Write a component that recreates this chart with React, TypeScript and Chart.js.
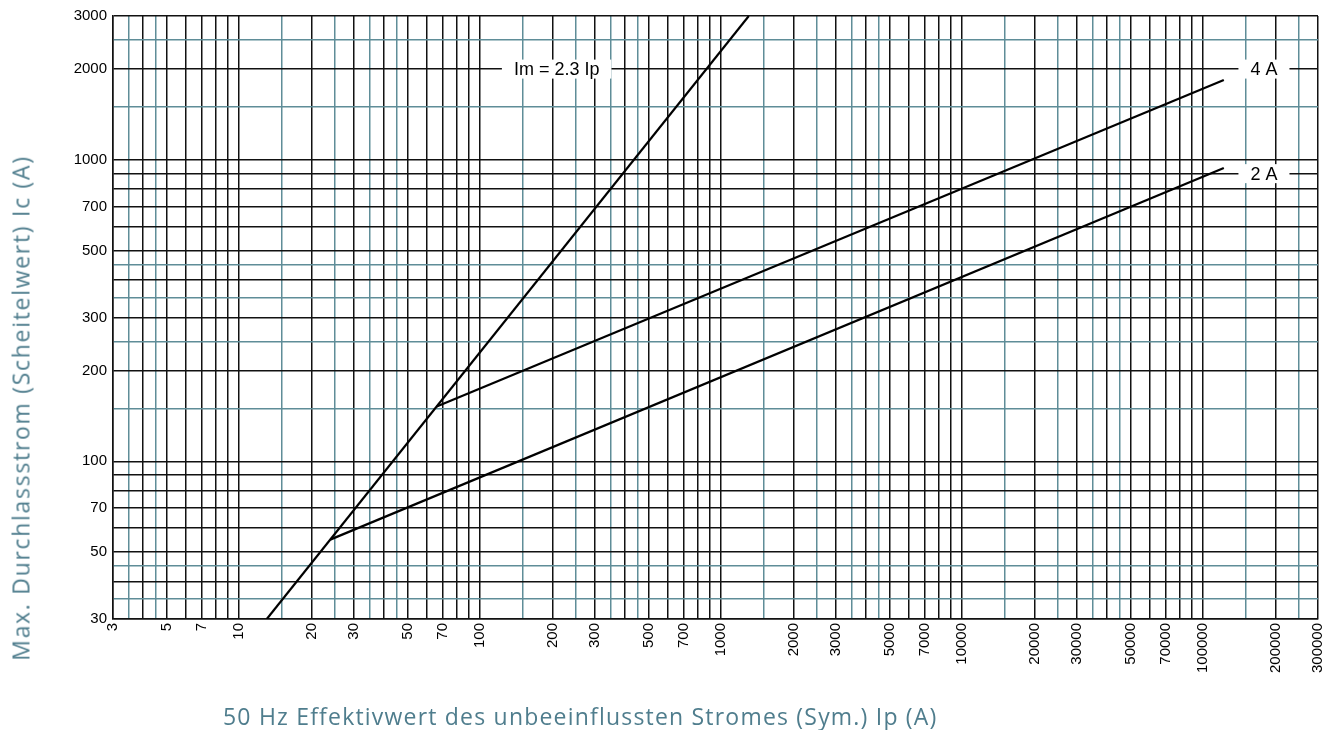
import React, { useEffect, useRef } from "react";
import { Chart, registerables } from "chart.js";

Chart.register(...registerables);

// ---- data ----
const xTickLabels = [3, 5, 7, 10, 20, 30, 50, 70, 100, 200, 300, 500, 700, 1000, 2000, 3000, 5000, 7000, 10000, 20000, 30000, 50000, 70000, 100000, 200000, 300000];
const yTickLabels = [30, 50, 70, 100, 200, 300, 500, 700, 1000, 2000, 3000];
const blackMultipliers = [1, 2, 3, 4, 5, 6, 7, 8, 9];
const tealMultipliers = [1.5, 2.5, 3.5, 4.5];
const xDecades = [1, 10, 100, 1000, 10000, 100000];
const yDecades = [10, 100, 1000];

const lineImX = [13.04, 1304];
const lineImY = [30, 3000];
const line4AX = [66.1, 122000];
const line4AY = [152, 1840];
const line2AX = [23.9, 122000];
const line2AY = [55, 940];

const labelTexts = ["Im = 2.3 Ip", "4 A", "2 A"];
const labelXs = [208, 179000, 179000];
const labelYs = [2000, 2000, 900];

const xTitle = "50 Hz Effektivwert des unbeeinflussten Stromes (Sym.) Ip (A)";
const yTitle = "Max. Durchlassstrom (Scheitelwert) Ic (A)";

// ---- helpers ----
const BLACK = "#111111";
const TEAL = "#5f8d98";
const TITLE_COLOR = "#4f7d8d";

function clean(v: number) {
  return parseFloat(v.toPrecision(6));
}
function gridValues(decades: number[], min: number, max: number) {
  const out: number[] = [];
  for (const d of decades) {
    for (const m of blackMultipliers.concat(tealMultipliers)) {
      const v = clean(m * d);
      if (v >= min && v <= max && !out.includes(v)) out.push(v);
    }
  }
  return out.sort((a, b) => a - b);
}
const tealSet = new Set<number>();
for (const d of xDecades.concat(yDecades)) for (const m of tealMultipliers) tealSet.add(clean(m * d));

const xGrid = gridValues(xDecades, 3, 300000);
const yGrid = gridValues(yDecades, 30, 3000);

function pts(xs: number[], ys: number[]) {
  return xs.map((x, i) => ({ x, y: ys[i] }));
}

const labelPlugin = {
  id: "curveLabels",
  afterDatasetsDraw(chart: any) {
    const ctx = chart.ctx;
    const xs = chart.scales.x;
    const ys = chart.scales.y;
    ctx.save();
    ctx.font = '18px "Liberation Sans", Arial, sans-serif';
    ctx.textAlign = "center";
    ctx.textBaseline = "middle";
    labelTexts.forEach((t, i) => {
      const px = xs.getPixelForValue(labelXs[i]);
      const py = ys.getPixelForValue(labelYs[i]);
      const w = ctx.measureText(t).width + 24;
      const h = 19;
      ctx.fillStyle = "#ffffff";
      ctx.fillRect(px - w / 2, py - h / 2, w, h);
      ctx.fillStyle = "#000000";
      ctx.fillText(t, px, py + 1);
    });
    ctx.restore();
  },
};

export default function App() {
  const ref = useRef<HTMLCanvasElement>(null);

  useEffect(() => {
    if (!ref.current) return;
    const lineStyle = {
      borderColor: "#000000",
      borderWidth: 2.2,
      pointRadius: 0,
      fill: false,
      tension: 0,
    };
    const chart = new Chart(ref.current, {
      type: "line",
      data: {
        datasets: [
          { label: "Im = 2.3 Ip", data: pts(lineImX, lineImY), ...lineStyle },
          { label: "4 A", data: pts(line4AX, line4AY), ...lineStyle },
          { label: "2 A", data: pts(line2AX, line2AY), ...lineStyle },
        ],
      },
      options: {
        animation: false,
        responsive: false,
        devicePixelRatio: 1,
        layout: { padding: { left: 0, top: 16, right: 9, bottom: 0 } },
        plugins: { legend: { display: false }, tooltip: { enabled: false } },
        scales: {
          x: {
            type: "logarithmic",
            min: 3,
            max: 300000,
            afterBuildTicks: (s: any) => {
              s.ticks = xGrid.map((v) => ({ value: v }));
            },
            afterFit: (s: any) => {
              s.height = 111;
              s.paddingLeft = 0;
              s.paddingRight = 0;
            },
            grid: {
              drawTicks: false,
              lineWidth: 1.5,
              color: (c: any) => (c.tick && tealSet.has(c.tick.value) ? TEAL : BLACK),
            },
            border: { display: true, color: BLACK, width: 1.5 },
            ticks: {
              autoSkip: false,
              minRotation: 90,
              maxRotation: 90,
              padding: 4,
              color: "#000000",
              font: { family: '"Liberation Sans", Arial, sans-serif', size: 15 },
              callback: (v: any) => (xTickLabels.includes(Number(v)) ? String(v) : ""),
            },
          },
          y: {
            type: "logarithmic",
            min: 30,
            max: 3000,
            afterBuildTicks: (s: any) => {
              s.ticks = yGrid.map((v) => ({ value: v }));
            },
            afterFit: (s: any) => {
              s.width = 113;
            },
            grid: {
              drawTicks: false,
              lineWidth: 1.5,
              color: (c: any) => (c.tick && tealSet.has(c.tick.value) ? TEAL : BLACK),
            },
            border: { display: true, color: BLACK, width: 1.5 },
            ticks: {
              autoSkip: false,
              padding: 6,
              color: "#000000",
              font: { family: '"Liberation Sans", Arial, sans-serif', size: 15 },
              callback: (v: any) => (yTickLabels.includes(Number(v)) ? String(v) : ""),
            },
          },
        },
      },
      plugins: [labelPlugin],
    } as any);
    return () => chart.destroy();
  }, []);

  const titleFont = {
    fontFamily: '"Open Sans", sans-serif',
    fontSize: 23,
    color: TITLE_COLOR,
    whiteSpace: "nowrap" as const,
    lineHeight: "23px",
  };

  return (
    <div style={{ position: "fixed", left: 0, top: 0, width: 1327, height: 730, background: "#fff", overflow: "hidden" }}>
      <canvas ref={ref} width={1327} height={730} style={{ position: "absolute", left: 0, top: 0 }} />
      <div style={{ position: "absolute", left: 223, top: 705, letterSpacing: "1.2px", ...titleFont }}>{xTitle}</div>
      <div
        style={{
          position: "absolute",
          left: 21,
          top: 408,
          letterSpacing: "1.7px",
          transform: "translate(-50%, -50%) rotate(-90deg)",
          ...titleFont,
        }}
      >
        {yTitle}
      </div>
    </div>
  );
}
